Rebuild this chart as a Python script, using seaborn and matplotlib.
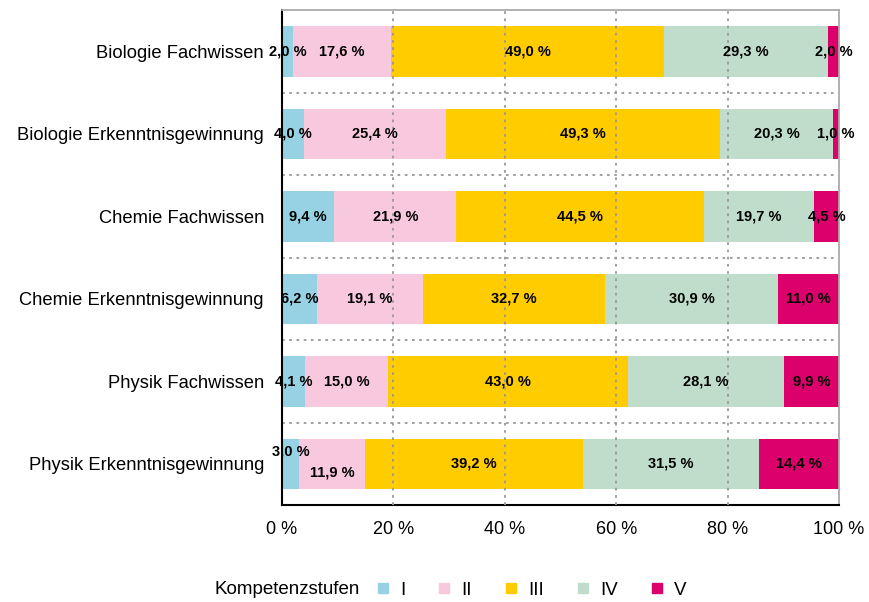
import numpy as np
import pandas as pd
import matplotlib
matplotlib.use('Agg')
import matplotlib.pyplot as plt
from matplotlib.lines import Line2D
import seaborn as sns

sns.set_style('white')
plt.rcParams['font.family'] = ['Liberation Sans', 'DejaVu Sans']
plt.rcParams['text.color'] = 'black'
plt.rcParams['xtick.labelcolor'] = 'black'
plt.rcParams['ytick.labelcolor'] = 'black'

# data
categories = ['Biologie Fachwissen', 'Biologie Erkenntnisgewinnung', 'Chemie Fachwissen',
              'Chemie Erkenntnisgewinnung', 'Physik Fachwissen', 'Physik Erkenntnisgewinnung']
levels = ['I', 'II', 'III', 'IV', 'V']
stufe_I = [2.0, 4.0, 9.4, 6.2, 4.1, 3.0]
stufe_II = [17.6, 25.4, 21.9, 19.1, 15.0, 11.9]
stufe_III = [49.0, 49.3, 44.5, 32.7, 43.0, 39.2]
stufe_IV = [29.3, 20.3, 19.7, 30.9, 28.1, 31.5]
stufe_V = [2.0, 1.0, 4.5, 11.0, 9.9, 14.4]
colors = ['#96D2E4', '#F8C9DE', '#FFCC00', '#C0DDCB', '#DB006B']

# label nudges (points) where the original shifts labels to avoid overlap
label_nudge = {(5, 0): 9, (5, 1): -6}

df = pd.DataFrame({'I': stufe_I, 'II': stufe_II, 'III': stufe_III,
                   'IV': stufe_IV, 'V': stufe_V}, index=categories)
cum = df.cumsum(axis=1)
cum = cum.div(cum['V'], axis=0) * 100  # bars run to 100 %

fig = plt.figure(figsize=(8.69, 6.02), dpi=100)
ax = fig.add_axes([0.3245, 0.161, 0.641, 0.822])

# stacked bars: draw cumulative totals from the back to the front
for lvl, col in reversed(list(zip(levels, colors))):
    sns.barplot(x=cum[lvl].values, y=categories, orient='h', color=col,
                width=0.61, saturation=1, linewidth=0, ax=ax, zorder=2)

# segment labels
for i, cat in enumerate(categories):
    start = 0
    for j, lvl in enumerate(levels):
        v = df.loc[cat, lvl]
        end = cum.loc[cat, lvl]
        txt = f'{v:.1f}'.replace('.', ',') + ' %'
        dy = label_nudge.get((i, j), 0)
        ax.annotate(txt, ((start + end) / 2, i), xytext=(0, dy), textcoords='offset points',
                    ha='center', va='center', fontsize=10.5, fontweight='bold',
                    color='black', zorder=5)
        start = end

ax.set_xlim(0, 100)
ax.set_ylim(5.5, -0.5)
ax.set_xticks([0, 20, 40, 60, 80, 100])
ax.set_xticklabels([f'{t} %' for t in [0, 20, 40, 60, 80, 100]], fontsize=13)
ax.set_yticks(range(len(categories)))
ax.set_yticklabels(categories, fontsize=13.2)
ax.set_yticks(np.arange(0.5, 5.5, 1), minor=True)
ax.tick_params(axis='y', which='major', length=0, pad=13)
ax.tick_params(axis='y', which='minor', length=5, width=1.5, direction='out', color='black')
ax.tick_params(axis='x', which='major', length=5, width=1, direction='inout', color='#aaaaaa', pad=9)
ax.set_xlabel('')
ax.set_ylabel('')

# dotted grid
for x in [20, 40, 60, 80]:
    ax.axvline(x, color='#999999', linestyle=(0, (1.5, 2.5)), linewidth=1.3, zorder=3)
for y in np.arange(0.5, 5.5, 1):
    ax.axhline(y, color='#999999', linestyle=(0, (1.5, 2.5)), linewidth=1.3, zorder=1)

for side in ['left', 'bottom']:
    ax.spines[side].set_color('black')
    ax.spines[side].set_linewidth(1.5)
for side in ['top', 'right']:
    ax.spines[side].set_color('#aaaaaa')
    ax.spines[side].set_linewidth(1.3)

# legend
fig.text(215 / 869, 1 - 590 / 602, 'Kompetenzstufen', fontsize=13.5, va='center', ha='left')
handles = [Line2D([], [], marker='s', linestyle='none', markersize=7,
                  markerfacecolor=c, markeredgecolor=c) for c in colors]
fig.legend(handles, levels, loc='center', bbox_to_anchor=(531 / 869, 1 - 590 / 602),
           ncol=5, frameon=False, fontsize=13.5, handlelength=0.8, handletextpad=0.5,
           columnspacing=1.7)

fig.savefig('out.png', dpi=100)
